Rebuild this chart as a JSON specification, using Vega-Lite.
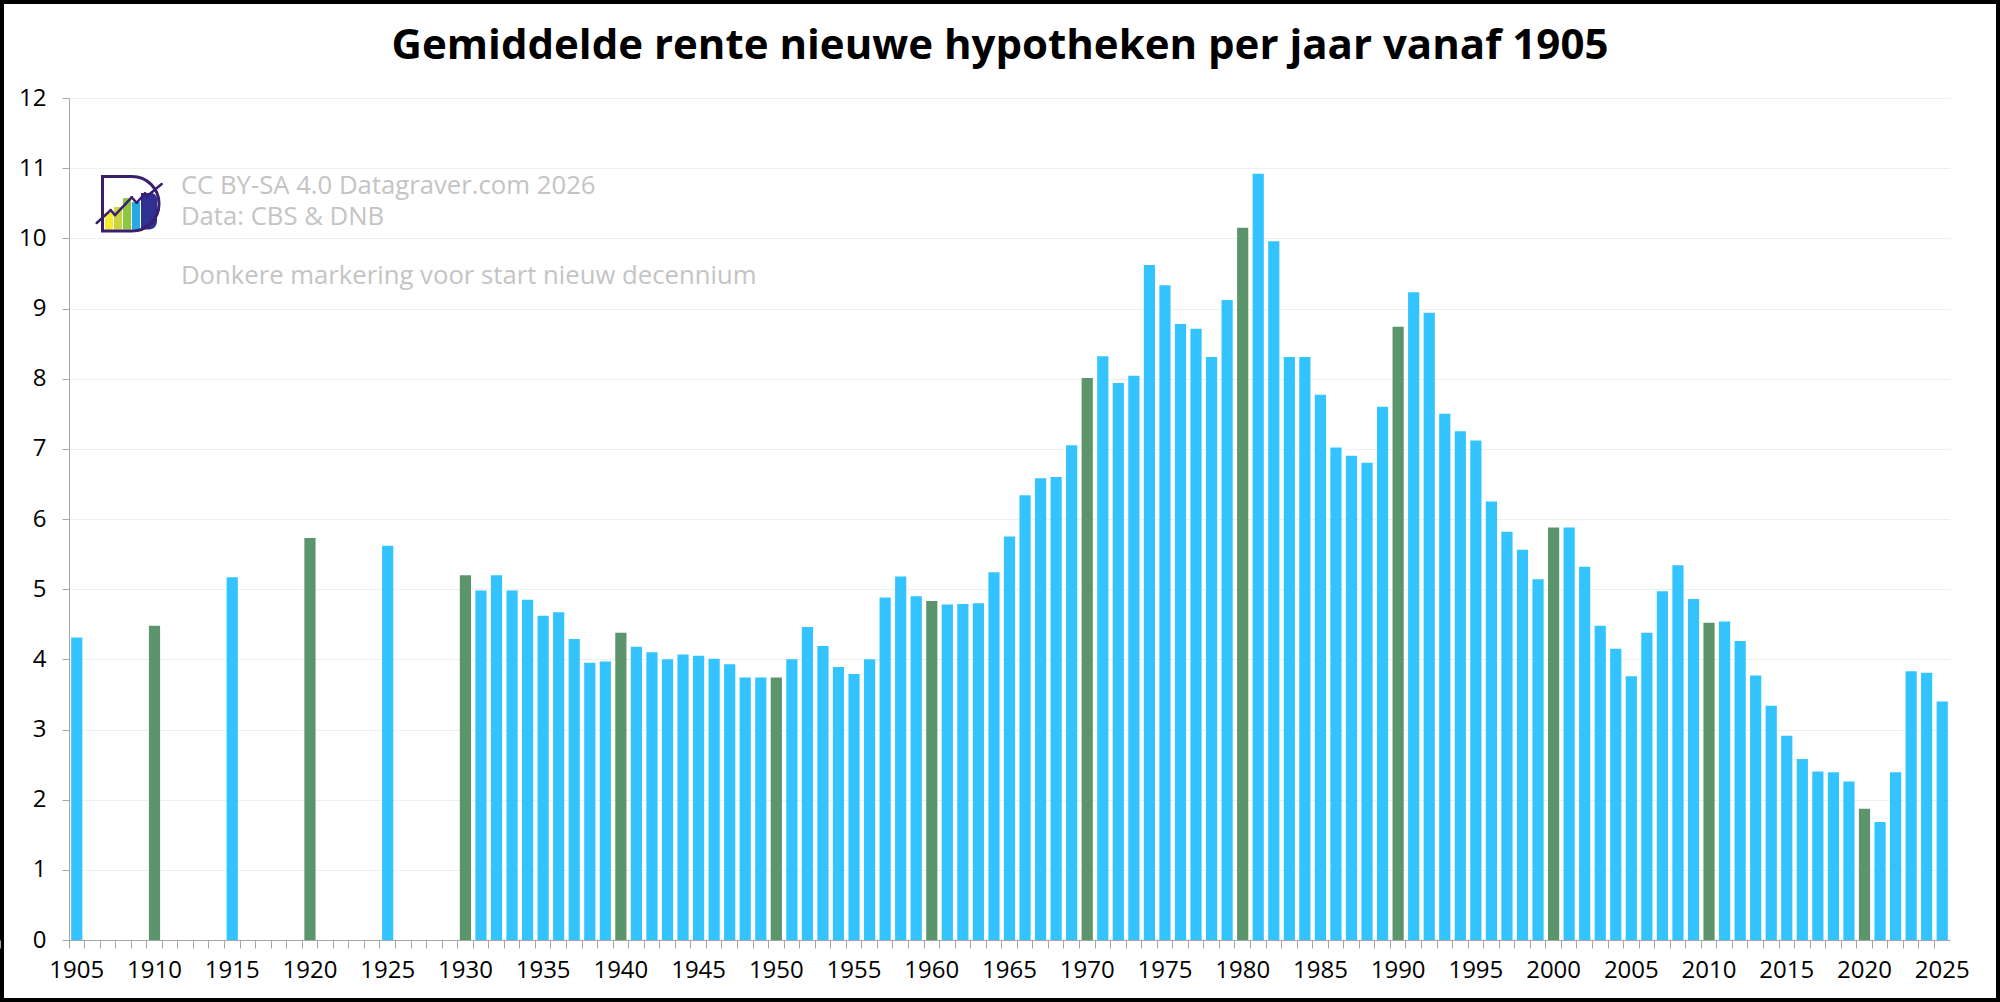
{
  "$schema": "https://vega.github.io/schema/vega-lite/v6.json",
  "width": 2000,
  "height": 1002,
  "padding": 0,
  "autosize": {"type": "none"},
  "background": "#ffffff",
  "config": {
    "view": {"stroke": "#000000", "strokeWidth": 8, "fill": "#ffffff"},
    "font": "Open Sans"
  },
  "title": {
    "text": "Gemiddelde rente nieuwe hypotheken per jaar vanaf 1905",
    "anchor": "middle",
    "frame": "group",
    "offset": -101,
    "baseline": "alphabetic",
    "font": "Open Sans",
    "fontSize": 42,
    "fontWeight": "bold",
    "color": "#000000"
  },
  "resolve": {"scale": {"x": "independent"}, "axis": {"x": "independent"}},
  "layer": [
    {
      "data": {
        "values": [
          {"year": 1905, "rente": 4.31}, {"year": 1910, "rente": 4.48}, {"year": 1915, "rente": 5.17},
          {"year": 1920, "rente": 5.73}, {"year": 1925, "rente": 5.62}, {"year": 1930, "rente": 5.20},
          {"year": 1931, "rente": 4.98}, {"year": 1932, "rente": 5.20}, {"year": 1933, "rente": 4.98},
          {"year": 1934, "rente": 4.85}, {"year": 1935, "rente": 4.62}, {"year": 1936, "rente": 4.67},
          {"year": 1937, "rente": 4.29}, {"year": 1938, "rente": 3.95}, {"year": 1939, "rente": 3.97},
          {"year": 1940, "rente": 4.38}, {"year": 1941, "rente": 4.18}, {"year": 1942, "rente": 4.10},
          {"year": 1943, "rente": 4.00}, {"year": 1944, "rente": 4.07}, {"year": 1945, "rente": 4.05},
          {"year": 1946, "rente": 4.01}, {"year": 1947, "rente": 3.93}, {"year": 1948, "rente": 3.74},
          {"year": 1949, "rente": 3.74}, {"year": 1950, "rente": 3.74}, {"year": 1951, "rente": 4.00},
          {"year": 1952, "rente": 4.46}, {"year": 1953, "rente": 4.19}, {"year": 1954, "rente": 3.89},
          {"year": 1955, "rente": 3.79}, {"year": 1956, "rente": 4.00}, {"year": 1957, "rente": 4.88},
          {"year": 1958, "rente": 5.18}, {"year": 1959, "rente": 4.90}, {"year": 1960, "rente": 4.83},
          {"year": 1961, "rente": 4.78}, {"year": 1962, "rente": 4.79}, {"year": 1963, "rente": 4.80},
          {"year": 1964, "rente": 5.24}, {"year": 1965, "rente": 5.75}, {"year": 1966, "rente": 6.34},
          {"year": 1967, "rente": 6.58}, {"year": 1968, "rente": 6.60}, {"year": 1969, "rente": 7.05},
          {"year": 1970, "rente": 8.01}, {"year": 1971, "rente": 8.32}, {"year": 1972, "rente": 7.94},
          {"year": 1973, "rente": 8.04}, {"year": 1974, "rente": 9.62}, {"year": 1975, "rente": 9.33},
          {"year": 1976, "rente": 8.78}, {"year": 1977, "rente": 8.71}, {"year": 1978, "rente": 8.31},
          {"year": 1979, "rente": 9.12}, {"year": 1980, "rente": 10.15}, {"year": 1981, "rente": 10.92},
          {"year": 1982, "rente": 9.96}, {"year": 1983, "rente": 8.31}, {"year": 1984, "rente": 8.31},
          {"year": 1985, "rente": 7.77}, {"year": 1986, "rente": 7.02}, {"year": 1987, "rente": 6.90},
          {"year": 1988, "rente": 6.80}, {"year": 1989, "rente": 7.60}, {"year": 1990, "rente": 8.74},
          {"year": 1991, "rente": 9.23}, {"year": 1992, "rente": 8.94}, {"year": 1993, "rente": 7.50},
          {"year": 1994, "rente": 7.25}, {"year": 1995, "rente": 7.12}, {"year": 1996, "rente": 6.25},
          {"year": 1997, "rente": 5.82}, {"year": 1998, "rente": 5.56}, {"year": 1999, "rente": 5.14},
          {"year": 2000, "rente": 5.88}, {"year": 2001, "rente": 5.88}, {"year": 2002, "rente": 5.32},
          {"year": 2003, "rente": 4.48}, {"year": 2004, "rente": 4.15}, {"year": 2005, "rente": 3.76},
          {"year": 2006, "rente": 4.38}, {"year": 2007, "rente": 4.97}, {"year": 2008, "rente": 5.34},
          {"year": 2009, "rente": 4.86}, {"year": 2010, "rente": 4.52}, {"year": 2011, "rente": 4.54},
          {"year": 2012, "rente": 4.26}, {"year": 2013, "rente": 3.77}, {"year": 2014, "rente": 3.34},
          {"year": 2015, "rente": 2.91}, {"year": 2016, "rente": 2.58}, {"year": 2017, "rente": 2.40},
          {"year": 2018, "rente": 2.39}, {"year": 2019, "rente": 2.26}, {"year": 2020, "rente": 1.87},
          {"year": 2021, "rente": 1.68}, {"year": 2022, "rente": 2.39}, {"year": 2023, "rente": 3.83},
          {"year": 2024, "rente": 3.81}, {"year": 2025, "rente": 3.40}
        ]
      },
      "mark": {"type": "bar", "width": {"band": 0.72}},
      "encoding": {
        "x": {
          "field": "year",
          "type": "ordinal",
          "scale": {
            "domain": [1905,1906,1907,1908,1909,1910,1911,1912,1913,1914,1915,1916,1917,1918,1919,1920,1921,1922,1923,1924,1925,1926,1927,1928,1929,1930,1931,1932,1933,1934,1935,1936,1937,1938,1939,1940,1941,1942,1943,1944,1945,1946,1947,1948,1949,1950,1951,1952,1953,1954,1955,1956,1957,1958,1959,1960,1961,1962,1963,1964,1965,1966,1967,1968,1969,1970,1971,1972,1973,1974,1975,1976,1977,1978,1979,1980,1981,1982,1983,1984,1985,1986,1987,1988,1989,1990,1991,1992,1993,1994,1995,1996,1997,1998,1999,2000,2001,2002,2003,2004,2005,2006,2007,2008,2009,2010,2011,2012,2013,2014,2015,2016,2017,2018,2019,2020,2021,2022,2023,2024,2025],
            "range": [69, 1950],
            "paddingInner": 0,
            "paddingOuter": 0
          },
          "axis": {
            "title": null,
            "orient": "bottom",
            "offset": -62,
            "bandPosition": 0,
            "tickExtra": true,
            "tickSize": 8,
            "tickColor": "#a6a6a6",
            "domainColor": "#a6a6a6",
            "labelAngle": 0,
            "labelOverlap": false,
            "labelPadding": 10,
            "labelFont": "Open Sans",
            "labelFontSize": 24,
            "labelColor": "#000000",
            "labelExpr": "datum.value % 5 === 0 ? datum.label : ''",
            "grid": false
          }
        },
        "y": {
          "field": "rente",
          "type": "quantitative",
          "scale": {"domain": [0, 12], "nice": false, "range": [940, 98]},
          "axis": {
            "title": null,
            "orient": "left",
            "offset": -69,
            "values": [0,1,2,3,4,5,6,7,8,9,10,11,12],
            "format": "d",
            "tickSize": 7,
            "tickColor": "#a6a6a6",
            "domainColor": "#a6a6a6",
            "labelPadding": 16,
            "labelFont": "Open Sans",
            "labelFontSize": 24,
            "labelColor": "#000000",
            "grid": true,
            "gridColor": "#efefef"
          }
        },
        "color": {
          "condition": {"test": "datum.year % 10 === 0", "value": "#5c946c"},
          "value": "#33c4ff"
        }
      }
    },
    {
      "data": {"values": [{}]},
      "layer": [
        {
          "mark": {"type": "text", "align": "left", "baseline": "middle", "font": "Open Sans", "fontSize": 25.7, "color": "#c4c4c4"},
          "encoding": {
            "x": {"datum": 1912.2, "type": "quantitative", "scale": {"domain": [1905, 2026], "range": [69, 1950], "nice": false, "zero": false}, "axis": null},
            "y": {"datum": 10.75, "type": "quantitative"},
            "text": {"value": "CC BY-SA 4.0 Datagraver.com 2026"}
          }
        },
        {
          "mark": {"type": "text", "align": "left", "baseline": "middle", "font": "Open Sans", "fontSize": 25.7, "color": "#c4c4c4"},
          "encoding": {
            "x": {"datum": 1912.2, "type": "quantitative"},
            "y": {"datum": 10.3, "type": "quantitative"},
            "text": {"value": "Data: CBS & DNB"}
          }
        },
        {
          "mark": {"type": "text", "align": "left", "baseline": "middle", "font": "Open Sans", "fontSize": 25.7, "color": "#c4c4c4"},
          "encoding": {
            "x": {"datum": 1912.2, "type": "quantitative"},
            "y": {"datum": 9.46, "type": "quantitative"},
            "text": {"value": "Donkere markering voor start nieuw decennium"}
          }
        },
        {
          "mark": {"type": "rect", "fill": "#f5ee30"},
          "encoding": {
            "x": {"datum": 1907.316, "type": "quantitative"}, "x2": {"datum": 1907.83},
            "y": {"datum": 10.375, "type": "quantitative"}, "y2": {"datum": 10.126}
          }
        },
        {
          "mark": {"type": "rect", "fill": "#c9d540"},
          "encoding": {
            "x": {"datum": 1907.895, "type": "quantitative"}, "x2": {"datum": 1908.409},
            "y": {"datum": 10.446, "type": "quantitative"}, "y2": {"datum": 10.126}
          }
        },
        {
          "mark": {"type": "rect", "fill": "#8dc63f"},
          "encoding": {
            "x": {"datum": 1908.474, "type": "quantitative"}, "x2": {"datum": 1908.988},
            "y": {"datum": 10.574, "type": "quantitative"}, "y2": {"datum": 10.126}
          }
        },
        {
          "mark": {"type": "rect", "fill": "#27aae1"},
          "encoding": {
            "x": {"datum": 1909.053, "type": "quantitative"}, "x2": {"datum": 1909.568},
            "y": {"datum": 10.517, "type": "quantitative"}, "y2": {"datum": 10.126}
          }
        },
        {
          "mark": {"type": "rect", "fill": "#2e3192", "cornerRadiusBottomRight": 18, "cornerRadiusTopRight": 6},
          "encoding": {
            "x": {"datum": 1909.632, "type": "quantitative"}, "x2": {"datum": 1910.661},
            "y": {"datum": 10.646, "type": "quantitative"}, "y2": {"datum": 10.126}
          }
        },
        {
          "mark": {"type": "rect", "fill": null, "stroke": "#3b1e6e", "strokeWidth": 3, "cornerRadiusTopRight": 27, "cornerRadiusBottomRight": 27},
          "encoding": {
            "x": {"datum": 1907.155, "type": "quantitative"}, "x2": {"datum": 1910.79},
            "y": {"datum": 10.881, "type": "quantitative"}, "y2": {"datum": 10.104}
          }
        },
        {
          "mark": {"type": "rule", "stroke": "#3b1e6e", "strokeWidth": 2.5, "strokeCap": "round"},
          "encoding": {
            "x": {"datum": 1906.782, "type": "quantitative"}, "x2": {"datum": 1907.683},
            "y": {"datum": 10.218, "type": "quantitative"}, "y2": {"datum": 10.403}
          }
        },
        {
          "mark": {"type": "rule", "stroke": "#3b1e6e", "strokeWidth": 2.5, "strokeCap": "round"},
          "encoding": {
            "x": {"datum": 1907.683, "type": "quantitative"}, "x2": {"datum": 1907.959},
            "y": {"datum": 10.403, "type": "quantitative"}, "y2": {"datum": 10.331}
          }
        },
        {
          "mark": {"type": "rule", "stroke": "#3b1e6e", "strokeWidth": 2.5, "strokeCap": "round"},
          "encoding": {
            "x": {"datum": 1907.959, "type": "quantitative"}, "x2": {"datum": 1909.033},
            "y": {"datum": 10.331, "type": "quantitative"}, "y2": {"datum": 10.585}
          }
        },
        {
          "mark": {"type": "rule", "stroke": "#3b1e6e", "strokeWidth": 2.5, "strokeCap": "round"},
          "encoding": {
            "x": {"datum": 1909.033, "type": "quantitative"}, "x2": {"datum": 1909.355},
            "y": {"datum": 10.585, "type": "quantitative"}, "y2": {"datum": 10.507}
          }
        },
        {
          "mark": {"type": "rule", "stroke": "#3b1e6e", "strokeWidth": 2.5, "strokeCap": "round"},
          "encoding": {
            "x": {"datum": 1909.355, "type": "quantitative"}, "x2": {"datum": 1909.889},
            "y": {"datum": 10.507, "type": "quantitative"}, "y2": {"datum": 10.641}
          }
        },
        {
          "mark": {"type": "rule", "stroke": "#3b1e6e", "strokeWidth": 2.5, "strokeCap": "round"},
          "encoding": {
            "x": {"datum": 1909.889, "type": "quantitative"}, "x2": {"datum": 1910.037},
            "y": {"datum": 10.641, "type": "quantitative"}, "y2": {"datum": 10.603}
          }
        },
        {
          "mark": {"type": "rule", "stroke": "#3b1e6e", "strokeWidth": 2.5, "strokeCap": "round"},
          "encoding": {
            "x": {"datum": 1910.037, "type": "quantitative"}, "x2": {"datum": 1910.963},
            "y": {"datum": 10.603, "type": "quantitative"}, "y2": {"datum": 10.774}
          }
        }
      ]
    }
  ]
}
